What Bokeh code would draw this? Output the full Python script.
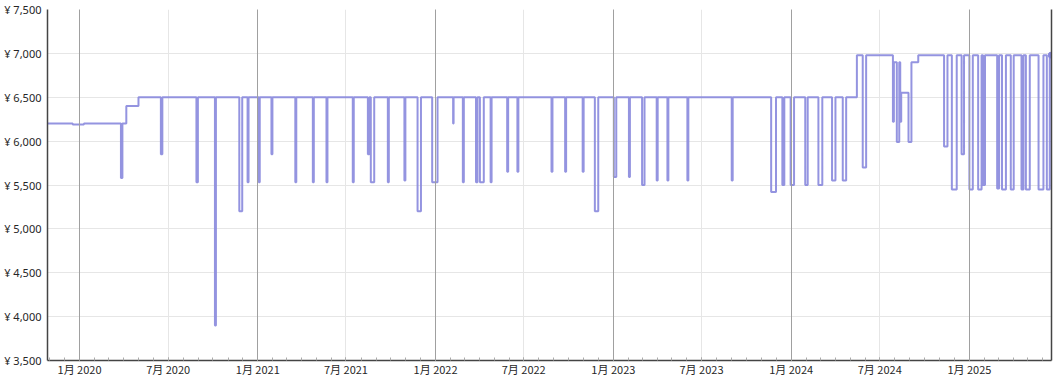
from datetime import datetime
import pandas as pd
from bokeh.plotting import figure
from bokeh.models import FixedTicker, Grid, LinearAxis, Range1d, ColumnDataSource
from bokeh.embed import file_html
from bokeh.resources import INLINE

# ---- data -------------------------------------------------------------
change_dates = [
    "2019-10-27", "2019-12-18", "2020-01-10", "2020-03-26", "2020-03-29", "2020-04-06",
    "2020-05-01", "2020-06-16", "2020-06-19", "2020-08-28", "2020-08-31", "2020-10-05",
    "2020-10-07", "2020-11-24", "2020-11-30", "2020-12-11", "2020-12-13", "2021-01-03",
    "2021-01-05", "2021-01-29", "2021-01-31", "2021-03-19", "2021-03-21", "2021-04-24",
    "2021-04-26", "2021-05-22", "2021-05-24", "2021-07-15", "2021-07-17", "2021-08-15",
    "2021-08-18", "2021-08-21", "2021-08-28", "2021-09-25", "2021-09-27", "2021-10-29",
    "2021-10-31", "2021-11-25", "2021-12-02", "2021-12-25", "2022-01-05", "2022-02-06",
    "2022-02-07", "2022-02-26", "2022-02-28", "2022-03-25", "2022-03-28", "2022-04-02",
    "2022-04-10", "2022-04-24", "2022-04-26", "2022-05-28", "2022-05-30", "2022-06-18",
    "2022-06-20", "2022-08-27", "2022-08-29", "2022-09-24", "2022-09-26", "2022-10-30",
    "2022-11-01", "2022-11-24", "2022-12-01", "2023-01-02", "2023-01-07", "2023-02-02",
    "2023-02-04", "2023-03-01", "2023-03-06", "2023-03-31", "2023-04-02", "2023-04-22",
    "2023-04-24", "2023-06-02", "2023-06-04", "2023-09-01", "2023-09-03", "2023-11-21",
    "2023-12-01", "2023-12-14", "2023-12-18", "2023-12-31", "2024-01-07", "2024-01-30",
    "2024-02-04", "2024-02-26", "2024-03-05", "2024-03-25", "2024-04-01", "2024-04-16",
    "2024-04-23", "2024-05-15", "2024-05-27", "2024-06-03", "2024-07-28", "2024-07-30",
    "2024-08-05", "2024-08-10", "2024-08-12", "2024-08-14", "2024-08-29", "2024-09-04",
    "2024-09-18", "2024-11-10", "2024-11-17", "2024-11-26", "2024-12-06", "2024-12-16",
    "2024-12-21", "2025-01-01", "2025-01-08", "2025-01-19", "2025-01-26", "2025-01-29",
    "2025-02-02", "2025-02-27", "2025-03-03", "2025-03-09", "2025-03-17", "2025-03-27",
    "2025-04-02", "2025-04-18", "2025-04-22", "2025-04-27", "2025-05-05", "2025-05-23",
    "2025-06-02", "2025-06-09", "2025-06-15", "2025-06-18",
]
prices = [
    6200, 6190, 6200, 5580, 6200, 6400,
    6500, 5850, 6500, 5530, 6500, 3900,
    6500, 5200, 6500, 5530, 6500, 5530,
    6500, 5850, 6500, 5530, 6500, 5530,
    6500, 5530, 6500, 5530, 6500, 5850,
    6500, 5530, 6500, 5530, 6500, 5550,
    6500, 5200, 6500, 5530, 6500, 6200,
    6500, 5530, 6500, 5530, 6500, 5530,
    6500, 5530, 6500, 5650, 6500, 5650,
    6500, 5650, 6500, 5650, 6500, 5650,
    6500, 5200, 6500, 5590, 6500, 5590,
    6500, 5500, 6500, 5550, 6500, 5550,
    6500, 5550, 6500, 5550, 6500, 5420,
    6500, 5500, 6500, 5500, 6500, 5500,
    6500, 5500, 6500, 5550, 6500, 5550,
    6500, 6980, 5700, 6980, 6220, 6900,
    5990, 6900, 6220, 6550, 5990, 6900,
    6980, 5940, 6980, 5450, 6980, 5850,
    6980, 5450, 6980, 5450, 6980, 5500,
    6980, 5460, 6980, 5450, 6980, 5450,
    6980, 5450, 6980, 5450, 6980, 5450,
    6980, 5450, 6980, 6980,
]

y_ticks = [3500, 4000, 4500, 5000, 5500, 6000, 6500, 7000, 7500]
y_tick_labels = ["¥ 3,500", "¥ 4,000", "¥ 4,500", "¥ 5,000", "¥ 5,500",
                 "¥ 6,000", "¥ 6,500", "¥ 7,000", "¥ 7,500"]
x_tick_dates = ["2020-01-01", "2020-07-01", "2021-01-01", "2021-07-01", "2022-01-01",
                "2022-07-01", "2023-01-01", "2023-07-01", "2024-01-01", "2024-07-01",
                "2025-01-01"]
x_tick_labels = ["1月 2020", "7月 2020", "1月 2021", "7月 2021", "1月 2022",
                 "7月 2022", "1月 2023", "7月 2023", "1月 2024", "7月 2024",
                 "1月 2025"]
month_starts = pd.date_range("2019-11-01", "2025-06-01", freq="MS")

x_start = datetime(2019, 10, 27, 5)
x_end = datetime(2025, 6, 18, 14)

# ---- helpers ----------------------------------------------------------
def ms(d):
    return float(pd.Timestamp(d).value // 10**6)

major_ms = [ms(d) for d in x_tick_dates]
jan_ms = [m for m, d in zip(major_ms, x_tick_dates) if d[5:7] == "01"]
jul_ms = [m for m, d in zip(major_ms, x_tick_dates) if d[5:7] == "07"]
minor_ms = [ms(d) for d in month_starts]

src = ColumnDataSource(dict(date=pd.to_datetime(change_dates), price=prices))

XFONT = "Noto Sans CJK JP"
YFONT = "Noto Sans"
TXT = "#262626"
LINE = "#8888dd"

p = figure(width=1059, height=379, x_axis_type="datetime",
           output_backend="svg", toolbar_location=None,
           x_range=Range1d(x_start, x_end), y_range=Range1d(3500, 7500),
           min_border_left=47, min_border_right=8, min_border_top=9,
           min_border_bottom=18)
p.outline_line_color = None
p.background_fill_color = "white"
p.border_fill_color = "white"

# x axis
xa = p.xaxis[0]
xa.ticker = FixedTicker(ticks=major_ms, minor_ticks=minor_ms)
xa.major_label_overrides = {m: l for m, l in zip(major_ms, x_tick_labels)}
xa.axis_line_color = "#444444"
xa.axis_line_width = 1.5
xa.major_tick_in = 3
xa.major_tick_out = 0
xa.minor_tick_in = 3
xa.minor_tick_out = 0
xa.major_tick_line_color = "#aaaaaa"
xa.minor_tick_line_color = "#aaaaaa"
xa.major_label_text_font = XFONT
xa.major_label_text_font_size = "11px"
xa.major_label_text_color = TXT
xa.major_label_text_line_height = 1.0
xa.major_label_standoff = 0

# y axis
ya = p.yaxis[0]
ya.ticker = FixedTicker(ticks=y_ticks)
ya.major_label_overrides = {t: l for t, l in zip(y_ticks, y_tick_labels)}
ya.axis_line_color = "#444444"
ya.axis_line_width = 1.5
ya.major_tick_line_color = None
ya.minor_tick_line_color = None
ya.major_label_text_font = YFONT
ya.major_label_text_font_size = "11px"
ya.major_label_text_color = TXT
ya.major_label_standoff = 0

# right border
ra = LinearAxis(ticker=FixedTicker(ticks=[]), axis_line_color="#444444",
                axis_line_width=1.5, major_tick_line_color=None,
                minor_tick_line_color=None, major_label_text_font_size="0px",
                major_label_standoff=0)
p.add_layout(ra, "right")

# grids
p.xgrid.visible = False
p.ygrid.ticker = FixedTicker(ticks=y_ticks)
p.ygrid.grid_line_color = "#e6e6e6"
p.add_layout(Grid(dimension=0, ticker=FixedTicker(ticks=jul_ms),
                  grid_line_color="#e6e6e6"))
p.add_layout(Grid(dimension=0, ticker=FixedTicker(ticks=jan_ms),
                  grid_line_color="#a0a0a0", level="overlay"))

# price line
p.step(x="date", y="price", source=src, mode="after",
       line_color=LINE, line_width=2, line_alpha=0.9)
p.scatter(x=[pd.Timestamp(change_dates[-1])], y=[prices[-1]], size=6,
          color=LINE)

open("out.html", "w").write(file_html(p, INLINE))
